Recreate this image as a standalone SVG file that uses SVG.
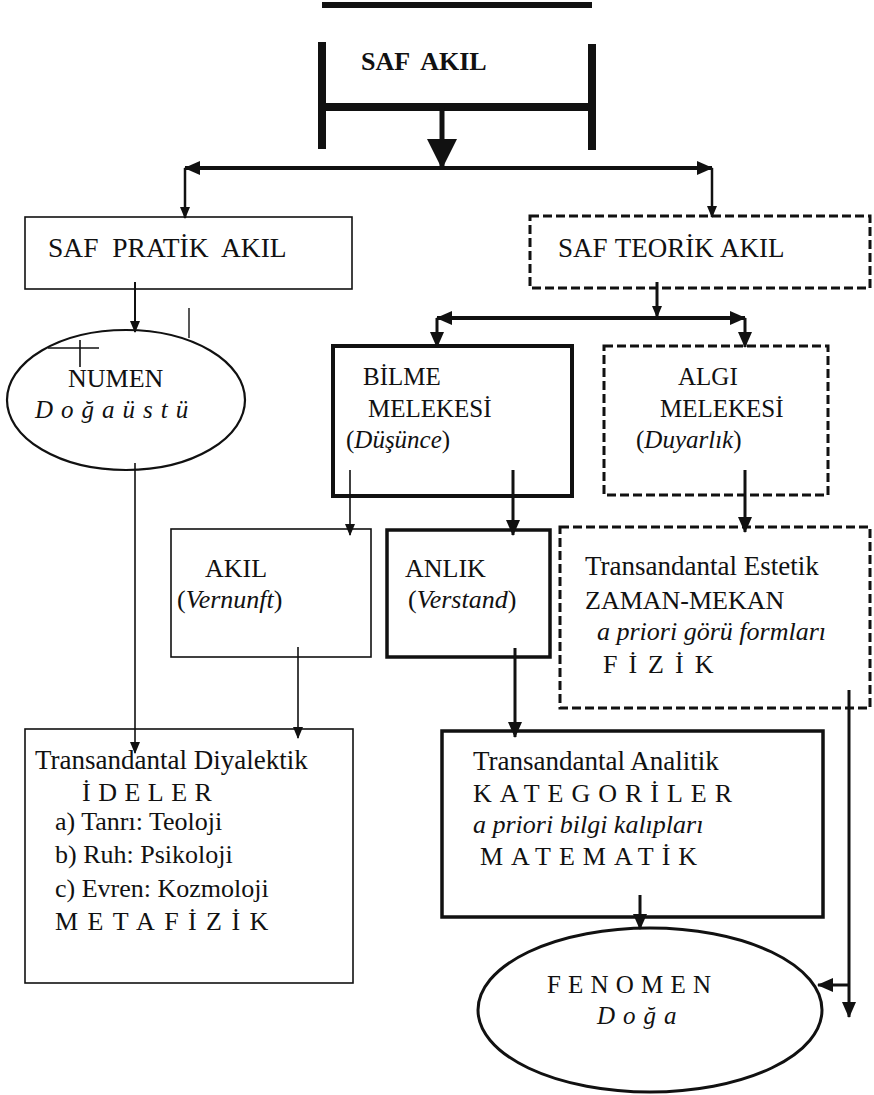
<svg xmlns="http://www.w3.org/2000/svg" width="874" height="1095" viewBox="0 0 874 1095">
<style>
text{font-family:"Liberation Serif","Times New Roman",serif;fill:#111;font-size:26px}
.it{font-style:italic}
.b{font-weight:bold}
.tr{font-size:27px}
.box{fill:none;stroke:#111}
.thin{stroke-width:1.6}
.thick{stroke-width:4}
.med{stroke-width:3.5}
.dash{stroke-width:3;stroke-dasharray:9 4}
.ln{fill:none;stroke:#111}
</style>
<defs>
<marker id="as" viewBox="0 0 12 10" refX="11" refY="5" markerWidth="12" markerHeight="10" markerUnits="userSpaceOnUse" orient="auto-start-reverse"><path d="M0,0 L12,5 L0,10 z" fill="#111"/></marker>
<marker id="am" viewBox="0 0 16 14" refX="15" refY="7" markerWidth="16" markerHeight="14" markerUnits="userSpaceOnUse" orient="auto-start-reverse"><path d="M0,0 L16,7 L0,14 z" fill="#111"/></marker>
<marker id="al" viewBox="0 0 30 30" refX="28" refY="15" markerWidth="30" markerHeight="30" markerUnits="userSpaceOnUse" orient="auto-start-reverse"><path d="M0,0 L30,15 L0,30 z" fill="#111"/></marker>
</defs>
<rect width="874" height="1095" fill="#fff"/>

<g id="saf-akil">
<line x1="322" y1="5" x2="592" y2="5" stroke="#111" stroke-width="6"/>
<line x1="322" y1="42" x2="322" y2="149" stroke="#111" stroke-width="8"/>
<line x1="592" y1="44" x2="592" y2="150" stroke="#111" stroke-width="8"/>
<line x1="322" y1="107" x2="592" y2="107" stroke="#111" stroke-width="8"/>
<text x="361" y="70" class="b" word-spacing="6">SAF AKIL</text>
</g>

<g id="saf-pratik-akil">
<rect x="25" y="217" width="327" height="72" class="box thin"/>
<text x="48" y="257" style="font-size:27.5px" word-spacing="7">SAF PRATİK AKIL</text>
</g>

<g id="saf-teorik-akil">
<rect x="530" y="216" width="340" height="72" class="box dash"/>
<text x="558" y="257" style="font-size:27px" word-spacing="1">SAF TEORİK AKIL</text>
</g>

<g id="numen">
<ellipse cx="126" cy="400" rx="119" ry="70" class="box" stroke-width="2.2"/>
<text x="68" y="387">NUMEN</text>
<text x="35" y="418" class="it" letter-spacing="8" style="font-size:25px">Doğaüstü</text>
</g>

<g id="bilme-melekesi">
<rect x="333" y="346" width="239" height="150" class="box thick"/>
<text x="363" y="385" style="font-size:25px">BİLME</text>
<text x="368" y="417" style="font-size:25px">MELEKESİ</text>
<text x="346" y="448" style="font-size:25px">(<tspan class="it">Düşünce</tspan>)</text>
</g>

<g id="algi-melekesi">
<rect x="604" y="346" width="224" height="149" class="box dash"/>
<text x="678" y="385" style="font-size:25px">ALGI</text>
<text x="660" y="417" style="font-size:25px">MELEKESİ</text>
<text x="636" y="448" style="font-size:25px">(<tspan class="it">Duyarlık</tspan>)</text>
</g>

<g id="akil">
<rect x="171" y="529" width="200" height="128" class="box thin"/>
<text x="205" y="577">AKIL</text>
<text x="177" y="608">(<tspan class="it">Vernunft</tspan>)</text>
</g>

<g id="anlik">
<rect x="387" y="530" width="163" height="127" class="box med"/>
<text x="405" y="577">ANLIK</text>
<text x="408" y="608">(<tspan class="it">Verstand</tspan>)</text>
</g>

<g id="transandantal-estetik">
<rect x="560" y="527" width="310" height="181" class="box dash"/>
<text x="585" y="575" class="tr">Transandantal Estetik</text>
<text x="585" y="609">ZAMAN-MEKAN</text>
<text x="597" y="640" class="it">a priori görü formları</text>
<text x="603" y="673" letter-spacing="11">FİZİK</text>
</g>

<g id="transandantal-diyalektik">
<rect x="25" y="729" width="328" height="254" class="box thin"/>
<text x="35" y="769" class="tr">Transandantal Diyalektik</text>
<text x="82" y="801" letter-spacing="7.5">İDELER</text>
<text x="55" y="830">a) Tanrı: Teoloji</text>
<text x="55" y="863">b) Ruh: Psikoloji</text>
<text x="55" y="897">c) Evren: Kozmoloji</text>
<text x="55" y="930" letter-spacing="9.4">METAFİZİK</text>
</g>

<g id="transandantal-analitik">
<rect x="442" y="731" width="381" height="186" class="box med"/>
<text x="473" y="770" class="tr">Transandantal Analitik</text>
<text x="473" y="802" letter-spacing="8">KATEGORİLER</text>
<text x="473" y="833" class="it">a priori bilgi kalıpları</text>
<text x="480" y="865" letter-spacing="8">MATEMATİK</text>
</g>

<g id="fenomen">
<ellipse cx="650" cy="1010" rx="172" ry="82" class="box" stroke-width="3"/>
<text x="547" y="993" letter-spacing="7.2" style="font-size:25px">FENOMEN</text>
<text x="597" y="1024" class="it" letter-spacing="8" style="font-size:25px">Doğa</text>
</g>

<g id="connectors" class="ln">
<line x1="442" y1="107" x2="442" y2="167" stroke="#111" stroke-width="5" marker-end="url(#al)"/>
<line x1="185" y1="168" x2="712" y2="168" stroke="#111" stroke-width="4" marker-start="url(#am)" marker-end="url(#am)"/>
<line x1="185" y1="168" x2="185" y2="218" stroke="#111" stroke-width="2.5" marker-end="url(#as)"/>
<line x1="712" y1="168" x2="712" y2="217" stroke="#111" stroke-width="2.5" marker-end="url(#as)"/>
<line x1="135" y1="282" x2="135" y2="332" stroke="#111" stroke-width="2" marker-end="url(#as)"/>
<line x1="657" y1="282" x2="657" y2="317" stroke="#111" stroke-width="3" marker-end="url(#as)"/>
<line x1="437" y1="318" x2="745" y2="318" stroke="#111" stroke-width="4" marker-start="url(#am)" marker-end="url(#am)"/>
<line x1="437" y1="318" x2="437" y2="347" stroke="#111" stroke-width="3" marker-end="url(#am)"/>
<line x1="745" y1="318" x2="745" y2="347" stroke="#111" stroke-width="3" marker-end="url(#am)"/>
<line x1="350" y1="470" x2="350" y2="535" stroke="#111" stroke-width="1.6" marker-end="url(#as)"/>
<line x1="513" y1="470" x2="513" y2="535" stroke="#111" stroke-width="3" marker-end="url(#am)"/>
<line x1="745" y1="470" x2="745" y2="532" stroke="#111" stroke-width="3" marker-end="url(#am)"/>
<line x1="135" y1="463" x2="135" y2="753" stroke="#111" stroke-width="1.6" marker-end="url(#as)"/>
<line x1="298" y1="647" x2="298" y2="738" stroke="#111" stroke-width="1.6" marker-end="url(#as)"/>
<line x1="515" y1="648" x2="515" y2="737" stroke="#111" stroke-width="3" marker-end="url(#am)"/>
<line x1="640" y1="895" x2="640" y2="929" stroke="#111" stroke-width="3" marker-end="url(#am)"/>
<line x1="849" y1="690" x2="849" y2="1017" stroke="#111" stroke-width="3" marker-end="url(#am)"/>
<line x1="849" y1="985" x2="818" y2="985" stroke="#111" stroke-width="3" marker-end="url(#am)"/>
<line x1="189" y1="308" x2="189" y2="338" stroke="#111" stroke-width="1.4"/>
<line x1="48" y1="348" x2="99" y2="348" stroke="#111" stroke-width="1.6"/>
<line x1="80" y1="340" x2="80" y2="367" stroke="#111" stroke-width="1.6"/>
</g>
</svg>
